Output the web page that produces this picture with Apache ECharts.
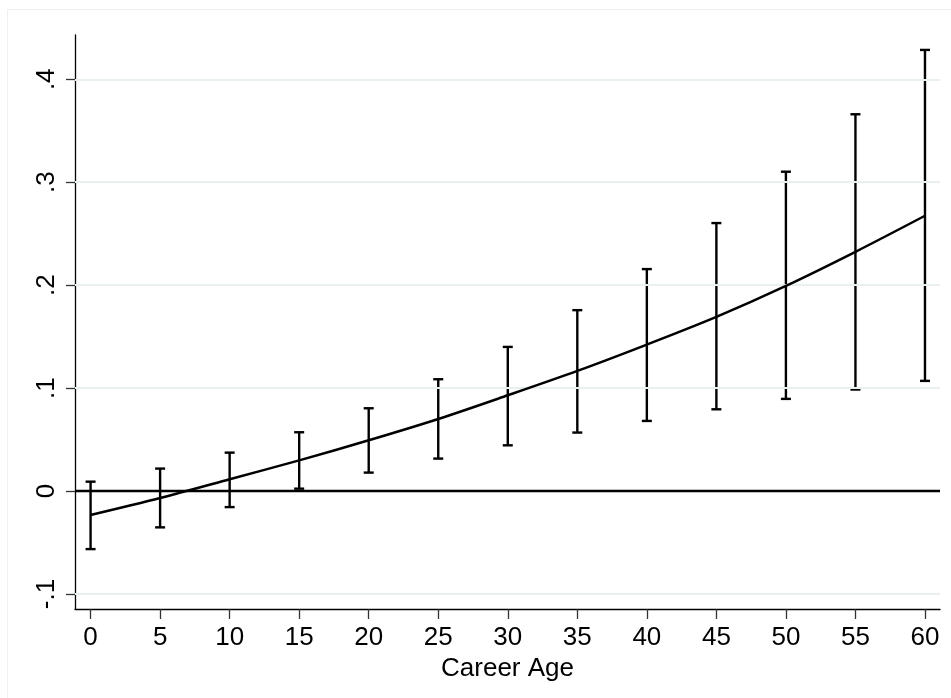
<!DOCTYPE html>
<html>
<head>
<meta charset="utf-8">
<script src="https://cdn.jsdelivr.net/npm/echarts@6/dist/echarts.min.js"></script>
<style>
html,body{margin:0;padding:0;background:#fff;}
#chart{width:951px;height:698px;}
</style>
</head>
<body>
<div id="chart"></div>
<script>
const careerAge = [0, 5, 10, 15, 20, 25, 30, 35, 40, 45, 50, 55, 60];
const fitted   = [-0.0233, -0.0068, 0.0114, 0.0298, 0.0493, 0.0700, 0.0930, 0.1167, 0.1423, 0.1692, 0.1993, 0.2324, 0.2674];
const ciLower  = [-0.0564, -0.0353, -0.0156, 0.0023, 0.0179, 0.0315, 0.0444, 0.0568, 0.0681, 0.0794, 0.0895, 0.0986, 0.1070];
const ciUpper  = [0.0091, 0.0218, 0.0373, 0.0571, 0.0804, 0.1086, 0.1400, 0.1757, 0.2156, 0.2603, 0.3102, 0.3660, 0.4285];
const xTicks = [0, 5, 10, 15, 20, 25, 30, 35, 40, 45, 50, 55, 60];
const yTicks = [-0.1, 0, 0.1, 0.2, 0.3, 0.4];
const yTickLabels = ['-.1', '0', '.1', '.2', '.3', '.4'];
const xTitle = 'Career Age';

const FONT = 'Liberation Sans, Arial, sans-serif';
const chart = echarts.init(document.getElementById('chart'), null, {renderer: 'canvas'});

const errData = careerAge.map((x, i) => [x, ciLower[i], ciUpper[i]]);

const option = {
  animation: false,
  backgroundColor: '#ffffff',
  graphic: [{
    type: 'rect',
    silent: true,
    shape: {x: 7.5, y: 9.5, width: 1000, height: 1000},
    style: {fill: 'none', stroke: '#edf1f3', lineWidth: 1}
  }],
  grid: {left: 75, right: 11, top: 35, bottom: 89, containLabel: false},
  xAxis: {
    type: 'value',
    min: -1.12,
    max: 61.08,
    name: xTitle,
    nameLocation: 'middle',
    nameGap: 40,
    nameTextStyle: {fontFamily: FONT, fontSize: 26, color: '#000'},
    axisLine: {show: true, onZero: false, lineStyle: {color: '#000', width: 1.3}},
    axisTick: {show: true, length: 10, customValues: xTicks, lineStyle: {color: '#333', width: 1.3}},
    axisLabel: {show: true, customValues: xTicks, margin: 16, fontFamily: FONT, fontSize: 26, color: '#000'},
    splitLine: {show: false}
  },
  yAxis: {
    type: 'value',
    min: -0.1146,
    max: 0.443,
    axisLine: {show: true, onZero: false, lineStyle: {color: '#000', width: 1.3}},
    axisTick: {show: true, length: 9, customValues: yTicks, lineStyle: {color: '#333', width: 1.3}},
    axisLabel: {
      show: true, customValues: yTicks, rotate: 90, margin: 15,
      fontFamily: FONT, fontSize: 26, color: '#000',
      formatter: function (v) {
        for (let i = 0; i < yTicks.length; i++) {
          if (Math.abs(yTicks[i] - v) < 1e-6) return yTickLabels[i];
        }
        return '';
      }
    },
    splitLine: {show: false}
  },
  series: [
    {
      type: 'line',
      name: 'grid',
      data: [],
      silent: true,
      z: 1,
      markLine: {
        silent: true,
        symbol: ['none', 'none'],
        label: {show: false},
        lineStyle: {color: '#e8f0f2', width: 2, type: 'solid'},
        data: yTicks.map(v => ({yAxis: v}))
      }
    },
    {
      type: 'line',
      name: 'zero',
      data: [],
      silent: true,
      z: 3,
      markLine: {
        silent: true,
        symbol: ['none', 'none'],
        label: {show: false},
        lineStyle: {color: '#000', width: 2.4, type: 'solid'},
        data: [{yAxis: 0}]
      }
    },
    {
      type: 'custom',
      name: 'CI',
      z: 4,
      data: errData,
      encode: {x: 0, y: [1, 2]},
      renderItem: function (params, api) {
        const x = api.value(0);
        const lo = api.coord([x, api.value(1)]);
        const hi = api.coord([x, api.value(2)]);
        const hw = 5;
        const st = {stroke: '#000', lineWidth: 2.4, fill: 'none'};
        return {
          type: 'group',
          children: [
            {type: 'line', shape: {x1: lo[0], y1: lo[1], x2: hi[0], y2: hi[1]}, style: st},
            {type: 'line', shape: {x1: lo[0] - hw, y1: lo[1], x2: lo[0] + hw, y2: lo[1]}, style: st},
            {type: 'line', shape: {x1: hi[0] - hw, y1: hi[1], x2: hi[0] + hw, y2: hi[1]}, style: st}
          ]
        };
      }
    },
    {
      type: 'line',
      name: 'Fitted',
      z: 5,
      data: careerAge.map((x, i) => [x, fitted[i]]),
      smooth: 0.3,
      symbol: 'none',
      lineStyle: {color: '#000', width: 2.5}
    }
  ]
};
chart.setOption(option);
</script>
</body>
</html>
